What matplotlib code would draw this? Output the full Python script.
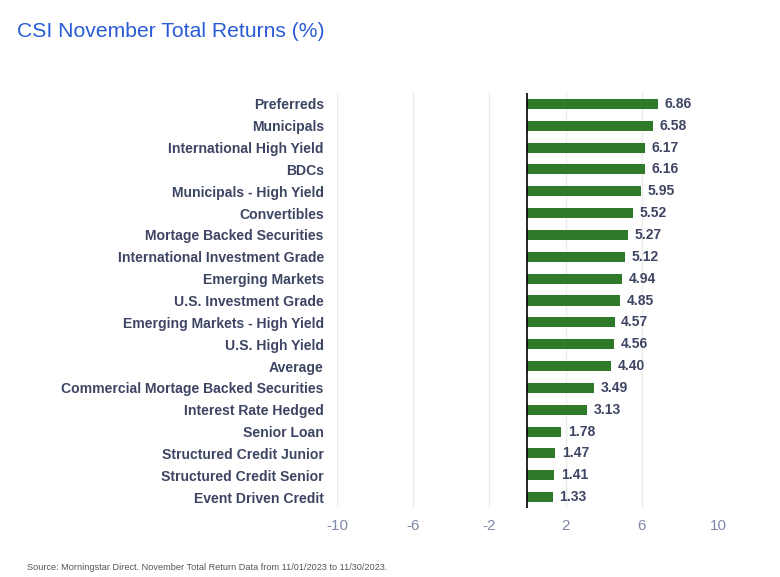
import matplotlib
matplotlib.use("Agg")
import matplotlib.pyplot as plt

categories = ["Preferreds", "Municipals", "International High Yield", "BDCs",
              "Municipals - High Yield", "Convertibles", "Mortage Backed Securities",
              "International Investment Grade", "Emerging Markets", "U.S. Investment Grade",
              "Emerging Markets - High Yield", "U.S. High Yield", "Average",
              "Commercial Mortage Backed Securities", "Interest Rate Hedged", "Senior Loan",
              "Structured Credit Junior", "Structured Credit Senior", "Event Driven Credit"]
values = [6.86, 6.58, 6.17, 6.16, 5.95, 5.52, 5.27, 5.12, 4.94, 4.85,
          4.57, 4.56, 4.40, 3.49, 3.13, 1.78, 1.47, 1.41, 1.33]
xticks = [-10, -6, -2, 2, 6, 10]

plt.rcParams['font.family'] = ['Liberation Sans', 'DejaVu Sans']

fig = plt.figure(figsize=(7.8, 5.77), dpi=100)
ax = fig.add_axes([0.432, 0.1196, 0.4885, 0.7192])

y = list(range(len(categories)))
ax.barh(y, values, height=0.46, color="#2f7a2a", zorder=3)
for yi, v in zip(y, values):
    ax.text(v + 0.35, yi, f"{v:.2f}", va="center", ha="left", fontsize=10,
            fontweight="bold", color="#3e4563", zorder=4)

ax.set_xlim(-10, 10)
ax.set_ylim(len(categories) - 0.5, -0.5)
ax.set_xticks(xticks)
ax.set_xticklabels([str(t) for t in xticks])
ax.set_yticks(y)
ax.set_yticklabels(categories, fontsize=10.1, fontweight="bold", color="#3e4563")
ax.tick_params(axis="y", length=0, pad=9.5)
ax.tick_params(axis="x", length=0, pad=8, labelsize=11, labelcolor="#7f88a8")
ax.grid(axis="x", color="#ececec", linewidth=1, zorder=0)
for s in ax.spines.values():
    s.set_visible(False)
ax.axvline(0, color="black", linewidth=1.2, zorder=5)

fig.text(0.022, 0.945, "CSI November Total Returns (%)", fontsize=15.2, color="#2a5bd6",
         ha="left", va="center")
fig.text(0.035, 0.017, "Source: Morningstar Direct. November Total Return Data from 11/01/2023 to 11/30/2023.",
         fontsize=6.6, color="#555555", ha="left", va="center")

fig.savefig("out.png", dpi=100)
